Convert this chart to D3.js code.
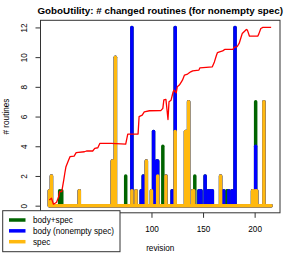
<!DOCTYPE html>
<html><head><meta charset="utf-8">
<script src="https://cdn.jsdelivr.net/npm/d3@7"></script>
<style>
body{margin:0;background:#fff}
svg{display:block}
text{font-family:"Liberation Sans",Arial,Helvetica,sans-serif;fill:#000}
</style>
</head><body>
<svg id="chart" width="294" height="254"></svg>
<script>
// ---------- data ----------
const revFirst = 1, revLast = 216;

// raw counts per revision (only non-zero revisions listed)
const specRev     = [1, 3, 30, 62, 63, 65, 81, 85, 95, 100, 106, 114, 123, 133, 134, 136, 140, 141, 167, 198, 199, 201, 202, 209];
const specVal     = [1, 2, 1,  3,  3,  10, 1,  1,  3,  1,   2,   2,   5,   5,   5,   7,   1,   1,   2,   1,   1,   1,   1,   7];

const bodyRev     = [81, 90, 92, 102, 105, 106, 120, 123, 146, 148, 152, 155, 157, 159, 170, 175, 178, 180, 181, 201];
const bodyVal     = [11, 1,  2,  5,   3,   1,   1,   7,   1,   1,   2,   1,   1,   1,   1,   1,   1,   1,   12,  3];

const bodySpecRev = [11, 13, 75, 111, 142, 173, 174, 201];
const bodySpecVal = [1,  1,  2,  4,   2,   1,   1,   3];

// red reference line
const redRev = [1, 3, 5, 8, 10, 11, 13, 15, 16, 17, 19, 21, 25, 27, 35, 37, 43, 45, 48, 50, 61, 75, 77, 87, 88, 91, 93, 98, 109, 111, 112, 114, 116, 117, 119, 121, 122, 124, 125, 127, 129, 130, 132, 135, 138, 140, 146, 147, 159, 161, 163, 164, 166, 169, 171, 179, 180, 183, 185, 187, 188, 192, 193, 195, 203, 204, 206, 208, 216];
const redVal = [0.38, 0.5, 0.1, 0.23, 0.6, 0.95, 0.95, 1.75, 2.2, 2.6, 2.95, 3.3, 3.34, 3.57, 3.63, 3.68, 3.68, 3.86, 3.9, 4.2, 4.2, 4.15, 4.82, 4.82, 6.0, 6.1, 6.32, 6.39, 6.4, 6.55, 7.12, 7.16, 5.8, 7.0, 7.1, 7.67, 7.78, 7.6, 8.0, 8.12, 8.34, 8.45, 8.79, 8.86, 9.01, 9.08, 9.13, 9.28, 9.35, 9.68, 10.13, 10.31, 10.36, 10.42, 10.52, 10.52, 10.65, 10.7, 10.92, 11.37, 11.59, 11.86, 11.82, 11.41, 11.41, 11.55, 11.93, 12.0, 12.0];

// visible x tick labels (0 and 50 lie under the legend in the reference)
const xTicks = [100, 150, 200];
const yTicks = [0, 2, 4, 6, 8, 10, 12];
const seriesNames  = ["body+spec", "body (nonempty spec)", "spec"];
const seriesColors = ["#006400", "#0000FF", "#FFB90F"];
const titleText = "GoboUtility: # changed routines (for nonempty spec)";
const xLabel = "revision", yLabel = "# routines";

// ---------- layout ----------
const box = {l: 40.5, r: 280, t: 20.3, b: 212.8};
const span = revLast - revFirst;
const x = d3.scaleLinear().domain([revFirst - 0.04 * span, revLast + 0.04 * span]).range([box.l, box.r]);
const y = d3.scaleLinear().domain([-0.48, 12.48]).range([box.b, box.t]);

const svg = d3.select("#chart");
svg.append("rect").attr("width", 294).attr("height", 254).attr("fill", "#fff");

const revs = d3.range(revFirst, revLast + 1);
const lookup = (rs, vs) => { const m = new Map(rs.map((r, i) => [r, vs[i]])); return r => m.get(r) || 0; };
const fSpec = lookup(specRev, specVal), fBody = lookup(bodyRev, bodyVal), fBS = lookup(bodySpecRev, bodySpecVal);

// stacked heights: green = all, blue = spec+body, orange = spec
const layers = [
  revs.map(r => ({r, v: fSpec(r) + fBody(r) + fBS(r)})),
  revs.map(r => ({r, v: fSpec(r) + fBody(r)})),
  revs.map(r => ({r, v: fSpec(r)}))
];

const plot = svg.append("g");
layers.forEach((data, i) => {
  plot.append("g").selectAll("line").data(data).join("line")
    .attr("x1", d => x(d.r)).attr("x2", d => x(d.r))
    .attr("y1", y(0)).attr("y2", d => y(d.v))
    .attr("stroke", seriesColors[i]).attr("stroke-width", 3.5)
    .attr("stroke-linecap", "round");
});

// red line
plot.append("path")
  .datum(redRev.map((r, i) => [r, redVal[i]]))
  .attr("fill", "none").attr("stroke", "#FF0000").attr("stroke-width", 1.3)
  .attr("stroke-linejoin", "round")
  .attr("d", d3.line().x(d => x(d[0])).y(d => y(d[1])));

// axes
const yAxis = svg.append("g").attr("transform", `translate(${box.l},0)`)
  .call(d3.axisLeft(y).tickValues(yTicks).tickSize(5).tickSizeOuter(0));
yAxis.select(".domain").remove();
yAxis.selectAll("line").attr("stroke", "#333");
yAxis.selectAll("text").attr("x", null).attr("dy", null)
  .attr("transform", "translate(-13.6,0) rotate(-90)")
  .attr("text-anchor", "middle").style("font-size", "8.2px").style("font-family", '"Liberation Sans",Arial,sans-serif');

const xAxis = svg.append("g").attr("transform", `translate(0,${box.b})`)
  .call(d3.axisBottom(x).tickValues(xTicks).tickSize(5).tickSizeOuter(0));
xAxis.select(".domain").remove();
xAxis.selectAll("line").attr("stroke", "#333");
xAxis.selectAll("text").attr("y", 19.4).attr("dy", null)
  .style("font-size", "8.2px").style("font-family", '"Liberation Sans",Arial,sans-serif');

// box
svg.append("rect").attr("x", box.l).attr("y", box.t)
  .attr("width", box.r - box.l).attr("height", box.b - box.t)
  .attr("fill", "none").attr("stroke", "#333").attr("stroke-width", 1);

// titles
svg.append("text").attr("x", (box.l + box.r) / 2).attr("y", 14)
  .attr("text-anchor", "middle").style("font-size", "9.8px").style("font-weight", "bold")
  .text(titleText);
svg.append("text").attr("x", (box.l + box.r) / 2).attr("y", 250.5)
  .attr("text-anchor", "middle").style("font-size", "8.2px").text(xLabel);
svg.append("text").attr("transform", `translate(9,${(box.t + box.b) / 2}) rotate(-90)`)
  .attr("text-anchor", "middle").style("font-size", "8.2px").text(yLabel);

// legend
const lg = svg.append("g");
lg.append("rect").attr("x", 2.7).attr("y", 210.7).attr("width", 117.3).attr("height", 41)
  .attr("fill", "#fff").attr("stroke", "#333").attr("stroke-width", 1);
seriesNames.forEach((name, i) => {
  const cy = 220 + i * 10.85;
  lg.append("line").attr("x1", 9).attr("x2", 25.5).attr("y1", cy).attr("y2", cy)
    .attr("stroke", seriesColors[i]).attr("stroke-width", 3.5);
  lg.append("text").attr("x", 33).attr("y", cy + 3).style("font-size", "8.2px").text(name);
});
</script>
</body></html>
